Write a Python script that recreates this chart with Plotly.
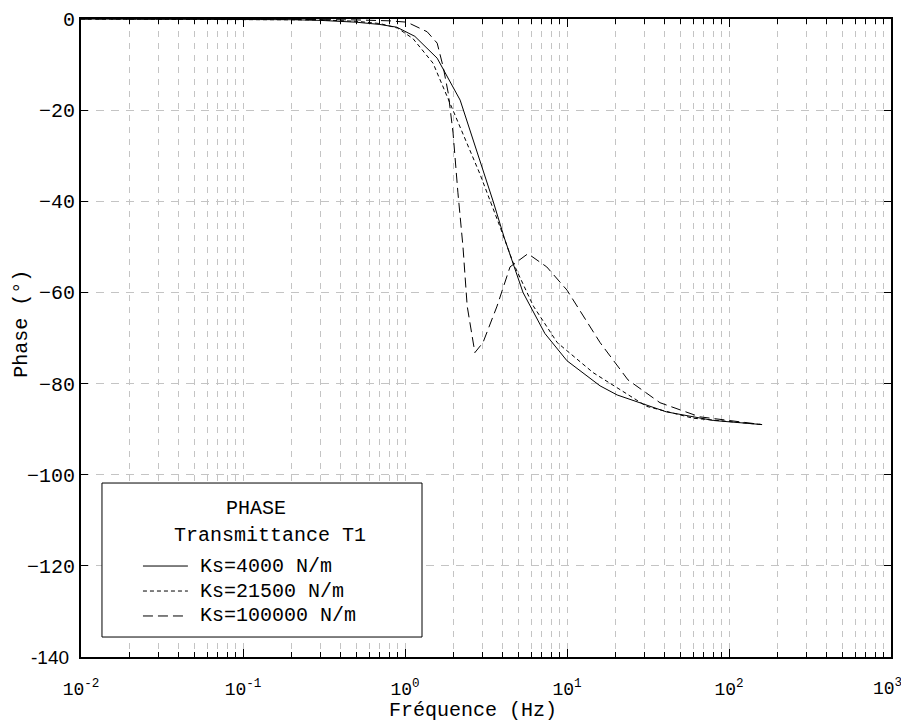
import plotly.graph_objects as go

# Ks = 4000 N/m
freq_4000 = [0.01, 0.1, 0.2, 0.3, 0.5, 0.7, 0.89, 1.15, 1.58, 2.19, 2.9, 3.5, 4.1,
             5.35, 7.3, 10, 16, 20.4, 41, 80, 160]
phase_4000 = [0, -0.05, -0.15, -0.3, -0.7, -1.2, -1.8, -3.8, -8.6, -17.8, -31, -40, -48,
              -60, -69, -75, -80.5, -82.5, -86.2, -88.1, -89]

# Ks = 21500 N/m
freq_21500 = [0.01, 0.1, 0.3, 0.5, 0.7, 0.9, 1.12, 1.49, 1.82, 2.19, 2.9, 3.86, 4.65,
              6.2, 8.7, 14.5, 31, 60, 160]
phase_21500 = [0, -0.05, -0.2, -0.5, -1.0, -2.0, -4.3, -9.7, -17, -23.7, -34, -45.6, -53.5,
               -63, -71, -77.6, -85, -87.6, -89]

# Ks = 100000 N/m
freq_100000 = [0.01, 0.1, 0.5, 0.8, 1.03, 1.37, 1.58, 1.72, 1.85, 1.98, 2.12, 2.28, 2.42,
               2.70, 3.03, 3.7, 4.45, 5.74, 7.5, 10, 16, 23.8, 37.5, 66, 160]
phase_100000 = [0, 0, -0.2, -0.4, -0.7, -2.8, -5.3, -10.5, -16.3, -25, -38, -50, -63,
                -73.2, -71, -63, -54.4, -51.5, -54.4, -59.5, -71, -79.2, -84.2, -87.3, -89]

series_names = ["Ks=4000 N/m", "Ks=21500 N/m", "Ks=100000 N/m"]
series_dash = ["solid", "4px,3px", "10px,5px"]

x_tickvals = [0.01, 0.1, 1, 10, 100, 1000]
x_ticktext = ["10<sup>-2</sup>", "10<sup>-1</sup>", "10<sup>0</sup>",
              "10<sup>1</sup>", "10<sup>2</sup>", ""]
x_last_label = "10<sup>3</sup>"   # drawn as an annotation so it stays inside the page
x_minor = [m * 10.0 ** k for k in range(-2, 3) for m in range(2, 10)]
y_tickvals = [0, -20, -40, -60, -80, -100, -120, -140]
y_ticktext = ["0", "\u221220", "\u221240", "\u221260", "\u221280", "\u2212100", "\u2212120", ""]

MONO = "Liberation Mono, Courier New, monospace"
GRID = "#c4c4c4"

fig = go.Figure()
for fx, py, name, dash in zip([freq_4000, freq_21500, freq_100000],
                              [phase_4000, phase_21500, phase_100000],
                              series_names, series_dash):
    fig.add_trace(go.Scatter(x=fx, y=py, name=name, mode="lines",
                             line=dict(color="black", width=1, dash=dash)))

# legend drawn by hand (box, centred title lines, indented entries)
shapes = [dict(type="rect", xref="paper", yref="paper", x0=0.0259, x1=0.421,
               y0=0.0313, y1=0.2727, line=dict(color="black", width=1),
               fillcolor="white", layer="above")]
annotations = [
    dict(text="PHASE", x=0.216, y=0.232),
    dict(text="Transmittance T1", x=0.233, y=0.191),
]
row_y = [0.1426, 0.1034, 0.0643]
for name, dash, ry in zip(series_names, series_dash, row_y):
    shapes.append(dict(type="line", xref="paper", yref="paper", x0=0.0765, x1=0.132,
                       y0=ry, y1=ry, line=dict(color="black", width=1, dash=dash),
                       layer="above"))
    annotations.append(dict(text=name, x=0.1444, y=ry, xanchor="left"))
for a in annotations:
    a.update(xref="paper", yref="paper", showarrow=False, yanchor="middle",
             font=dict(family=MONO, size=20))
    a.setdefault("xanchor", "center")

annotations += [
    dict(text="Fréquence (Hz)", xref="paper", yref="paper", x=0.484, y=-0.084,
         xanchor="center", yanchor="middle", showarrow=False,
         font=dict(family=MONO, size=20)),
    dict(text="Phase (°)", xref="paper", yref="paper", x=-0.073, y=0.522,
         xanchor="center", yanchor="middle", textangle=-90, showarrow=False,
         font=dict(family=MONO, size=20)),
    dict(text="-140", xref="paper", yref="y", x=-0.0125, y=-140,
         xanchor="right", yanchor="middle", showarrow=False,
         font=dict(family="Liberation Sans, Arial, sans-serif", size=19)),
    dict(text=x_last_label, xref="x", yref="paper", x=3, y=0, yshift=-17,
         xanchor="center", yanchor="top", xshift=-4, showarrow=False,
         font=dict(family=MONO, size=18)),
]

# the page adds an 8px body margin, so the figure is 8px smaller than the window
fig.update_layout(
    width=901, height=714,
    margin=dict(l=73, r=18, t=11, b=65),
    paper_bgcolor="white", plot_bgcolor="white",
    font=dict(family=MONO, size=20, color="black"),
    showlegend=False,
    shapes=shapes,
    annotations=annotations,
    xaxis=dict(
        type="log", range=[-2, 3], automargin=False,
        tickmode="array", tickvals=x_tickvals, ticktext=x_ticktext,
        ticks="inside", ticklen=8, tickcolor="black",
        showline=True, linecolor="black", linewidth=2, mirror="ticks",
        showgrid=True, gridcolor=GRID, griddash="6px,6px", gridwidth=1,
        zeroline=False, ticklabelstandoff=14,
        tickfont=dict(family=MONO, size=18),
        minor=dict(tickmode="array", tickvals=x_minor, ticks="inside", ticklen=5,
                   tickcolor="black", showgrid=True, gridcolor=GRID,
                   griddash="6px,6px", gridwidth=1),
    ),
    yaxis=dict(
        range=[-140, 0], automargin=False,
        tickmode="array", tickvals=y_tickvals, ticktext=y_ticktext,
        ticks="inside", ticklen=7, tickcolor="black",
        showline=True, linecolor="black", linewidth=2, mirror="ticks",
        showgrid=True, gridcolor=GRID, griddash="8px,7px", gridwidth=1,
        zeroline=False,
        tickfont=dict(family=MONO, size=20),
    ),
)

fig.write_html("out.html")
